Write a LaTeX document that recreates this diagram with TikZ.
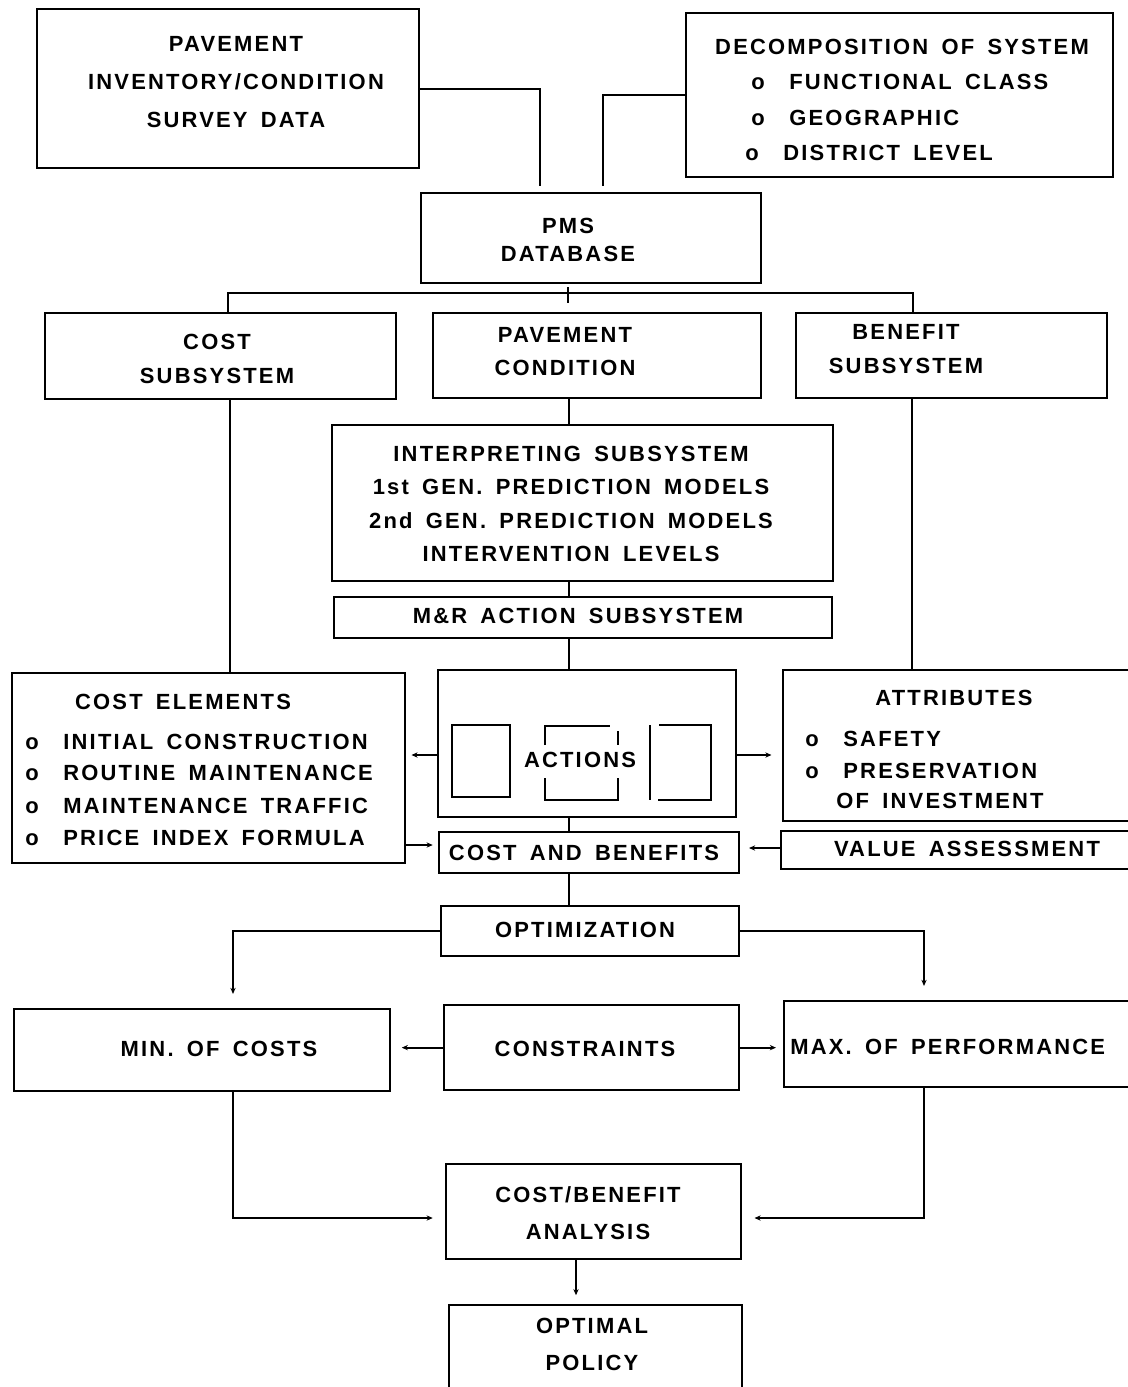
\documentclass[tikz,border=0pt]{standalone}
\usepackage{fontspec}
\usetikzlibrary{arrows.meta}

\newfontfamily\labfont{Liberation Sans}[LetterSpace=10, WordSpace=1.6]
\newcommand\lab{\labfont\bfseries\fontsize{12.5}{14}\selectfont}
\newcommand\lsp[1]{\fontsize{12.5}{#1}\selectfont}
\newcommand\itm{\makebox[0.76cm][l]{o}}

\tikzset{
  box/.style={draw, line width=1.3pt, anchor=north west, inner sep=0pt},
  txt/.style={font=\lab, inner sep=0pt, align=center},
  itx/.style={font=\lab, inner sep=0pt, anchor=west},
  link/.style={line width=1.05pt},
  arr/.style={link, -{Stealth[length=3.5pt, width=3pt]}},
}

\begin{document}
\begin{tikzpicture}[x=0.02cm, y=-0.02cm]
  \useasboundingbox (0,0) rectangle (1128,1387);

  \node[box, minimum width=7.64cm, minimum height=3.18cm] (inv) at (36,8) {};
  \node[box, minimum width=8.54cm, minimum height=3.28cm] (dec) at (685,12) {};
  \node[box, minimum width=6.80cm, minimum height=1.80cm] (pms) at (420,192) {};
  \node[box, minimum width=7.02cm, minimum height=1.72cm] (cost) at (44,312) {};
  \node[box, minimum width=6.56cm, minimum height=1.70cm] (pcond) at (432,312) {};
  \node[box, minimum width=6.22cm, minimum height=1.70cm] (bene) at (795,312) {};
  \node[box, minimum width=10.02cm, minimum height=3.12cm] (interp) at (331,424) {};
  \node[box, minimum width=9.96cm, minimum height=0.82cm] (mr) at (333,596) {};
  \node[box, minimum width=7.86cm, minimum height=3.80cm] (celem) at (11,672) {};
  \node[box, minimum width=5.96cm, minimum height=2.94cm] (act) at (437,669) {};
  \node[box, minimum width=6.96cm, minimum height=3.02cm] (attr) at (782,669) {};
  \node[box, minimum width=6.00cm, minimum height=0.82cm] (cab) at (438,831) {};
  \node[box, minimum width=7.00cm, minimum height=0.76cm] (val) at (780,830) {};
  \node[box, minimum width=5.96cm, minimum height=1.00cm] (opt) at (440,905) {};
  \node[box, minimum width=7.52cm, minimum height=1.64cm] (minc) at (13,1008) {};
  \node[box, minimum width=5.90cm, minimum height=1.70cm] (cons) at (443,1004) {};
  \node[box, minimum width=6.94cm, minimum height=1.72cm] (maxp) at (783,1000) {};
  \node[box, minimum width=5.90cm, minimum height=1.90cm] (cba) at (445,1163) {};
  \node[box, minimum width=5.86cm, minimum height=1.78cm] (optp) at (448,1304) {};

  \node[txt, font={\lab\lsp{21.6pt}}] (inv-t) at (236,82) {PAVEMENT\\INVENTORY/CONDITION\\SURVEY DATA};

  \node[txt] (dec-t) at (902,47) {DECOMPOSITION OF SYSTEM};
  \node[itx] (dec-a) at (751,82) {\itm FUNCTIONAL CLASS};
  \node[itx] (dec-b) at (751,118) {\itm GEOGRAPHIC};
  \node[itx] (dec-c) at (745,153) {\itm DISTRICT LEVEL};

  \node[txt, font={\lab\lsp{16pt}}] (pms-t) at (568,240) {PMS\\DATABASE};
  \node[txt, font={\lab\lsp{19.3pt}}] (cost-t) at (217,359) {COST\\SUBSYSTEM};
  \node[txt, font={\lab\lsp{18.8pt}}] (pcond-t) at (565,352) {PAVEMENT\\CONDITION};
  \node[txt, font={\lab\lsp{19.3pt}}] (bene-t) at (906,349) {BENEFIT\\SUBSYSTEM};

  \node[txt, font={\lab\lsp{19pt}}] (interp-t) at (571,504) {INTERPRETING SUBSYSTEM\\1st GEN. PREDICTION MODELS\\2nd GEN. PREDICTION MODELS\\INTERVENTION LEVELS};
  \node[txt] (mr-t) at (578,616) {M\&R ACTION SUBSYSTEM};

  \node[txt] (celem-t) at (183,702) {COST ELEMENTS};
  \node[itx] (celem-a) at (25,742) {\itm INITIAL CONSTRUCTION};
  \node[itx] (celem-b) at (25,773) {\itm ROUTINE MAINTENANCE};
  \node[itx] (celem-c) at (25,806) {\itm MAINTENANCE TRAFFIC};
  \node[itx] (celem-d) at (25,838) {\itm PRICE INDEX FORMULA};

  \node[txt] (act-t) at (580,760) {ACTIONS};
  \draw[link] (452,725) rectangle (510,797);
  \draw[link] (545,745) |- (610,726);
  \draw[link] (618,731) -- (618,745);
  \draw[link] (545,778) |- (618,800) -- (618,778);
  \draw[link] (650,725) -- (650,800);
  \draw[link] (659,725) -| (711,800) -- (658,800);

  \node[txt] (attr-t) at (954,698) {ATTRIBUTES};
  \node[itx] (attr-a) at (805,739) {\itm SAFETY};
  \node[itx] (attr-b) at (805,771) {\itm PRESERVATION};
  \node[itx] (attr-c) at (836,801) {OF INVESTMENT};

  \node[txt] (cab-t) at (584,853) {COST AND BENEFITS};
  \node[txt] (val-t) at (967,849) {VALUE ASSESSMENT};
  \node[txt] (opt-t) at (585,930) {OPTIMIZATION};
  \node[txt] (minc-t) at (219,1049) {MIN. OF COSTS};
  \node[txt] (cons-t) at (585,1049) {CONSTRAINTS};
  \node[itx] (maxp-t) at (790,1047) {MAX. OF PERFORMANCE};
  \node[txt, font={\lab\lsp{21pt}}] (cba-t) at (588,1213) {COST/BENEFIT\\ANALYSIS};
  \node[txt, font={\lab\lsp{21pt}}] (optp-t) at (592,1344) {OPTIMAL\\POLICY};

  \coordinate (inv-in) at (540,186);
  \coordinate (dec-in) at (603,186);
  \draw[link] (inv.east) -| (inv-in);
  \draw[link] (dec.west) -| (dec-in);

  \coordinate (bus) at (568,293);
  \coordinate (bus-l) at (228,293);
  \coordinate (bus-r) at (913,293);
  \draw[link] (cost.north -| bus-l) |- (bus-r) -- (bene.north -| bus-r);
  \draw[link] ([yshift=0.12cm]bus) -- ([yshift=-0.2cm]bus);

  \coordinate (spine) at (569,0);
  \draw[link] (pcond.south -| spine) -- (interp.north -| spine);
  \draw[link] (interp.south -| spine) -- (mr.north -| spine);
  \draw[link] (mr.south -| spine) -- (act.north -| spine);
  \draw[link] (act.south -| spine) -- (cab.north -| spine);
  \draw[link] (cab.south -| spine) -- (opt.north -| spine);

  \coordinate (cl) at (230,0);
  \coordinate (br) at (912,0);
  \draw[link] (cost.south -| cl) -- (celem.north -| cl);
  \draw[link] (bene.south -| br) -- (attr.north -| br);

  \coordinate (aside) at (0,755);
  \coordinate (ce) at (0,845);
  \coordinate (vc) at (0,848);
  \draw[arr, shorten >=3pt] (act.west |- aside) -- (celem.east |- aside);
  \draw[arr, shorten >=6pt] (act.east |- aside) -- (attr.west |- aside);
  \draw[arr, shorten >=3pt] (celem.east |- ce) -- (cab.west |- ce);
  \draw[arr, shorten >=5pt] (val.west |- vc) -- (cab.east |- vc);

  \coordinate (ml) at (233,0);
  \coordinate (mx) at (924,0);
  \draw[arr, shorten >=8pt] (opt.west) -| (minc.north -| ml);
  \draw[arr, shorten >=8pt] (opt.east) -| (maxp.north -| mx);
  \draw[arr, shorten >=6pt] (cons.west) -- (minc.east |- cons.west);
  \draw[arr, shorten >=4pt] (cons.east) -- (maxp.west |- cons.east);

  \coordinate (cb) at (0,1218);
  \coordinate (sp2) at (576,0);
  \draw[arr, shorten >=7pt] (minc.south -| ml) |- (cba.west |- cb);
  \draw[arr, shorten >=7pt] (maxp.south -| mx) |- (cba.east |- cb);
  \draw[arr, shorten >=5pt] (cba.south -| sp2) -- (optp.north -| sp2);
\end{tikzpicture}
\end{document}
